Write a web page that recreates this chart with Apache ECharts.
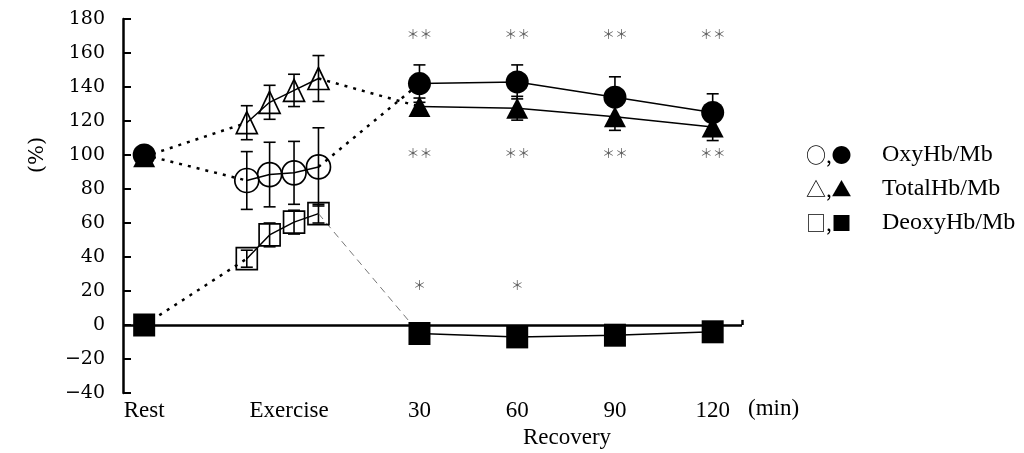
<!DOCTYPE html>
<html>
<head>
<meta charset="utf-8">
<script src="https://cdn.jsdelivr.net/npm/echarts@6/dist/echarts.min.js"></script>
<style>
  html, body { margin: 0; padding: 0; background: #fff; }
  #chart { width: 1024px; height: 453px; }
</style>
</head>
<body>
<div id="chart"></div>
<script>
// x positions: minutes of recovery; rest and exercise stages sit before 0
const restX = -54.5;
const exerciseX = [-23, -16, -8.5, -1];
const recoveryX = [30, 60, 90, 120];
const xMin = -61;
const xMax = 129;

const xTickValues = [-54.5, -10, 30, 60, 90, 120];
const xTickLabels = ['Rest', 'Exercise', '30', '60', '90', '120'];

// values in % of rest (mean and SD)
const oxyRest = 100;
const totalRest = 99;
const deoxyRest = 0;

const oxyExercise = [85, 88.5, 89.5, 93];
const oxyExerciseSD = [17, 19, 18.5, 23];
const totalExercise = [119, 131, 138, 145];
const totalExerciseSD = [10, 10, 9.5, 13.5];
const deoxyExercise = [39, 53, 60.5, 65.5];
const deoxyExerciseSD = [5, 7, 7, 5.5];

const oxyRecovery = [142, 143, 134, 125];
const oxyRecoverySD = [11, 10, 12, 11];
const totalRecovery = [128.5, 127.5, 122.5, 116.5];
const totalRecoverySD = [5, 7, 8, 8];
const deoxyRecovery = [-5, -7, -6, -4];
const deoxyRecoverySD = [2, 2, 2, 2];

// significance marks above each recovery time
const sigOxy = ['**', '**', '**', '**'];
const sigOxyLevel = 171;
const sigTotal = ['**', '**', '**', '**'];
const sigTotalLevel = 101;
const sigDeoxy = ['*', '*', '', ''];
const sigDeoxyLevel = 23.5;

const legendRows = [
  { marks: '\u25CB,\u25CF', name: 'OxyHb/Mb' },
  { marks: '\u25B3,\u25B2', name: 'TotalHb/Mb' },
  { marks: '\u25A1,\u25A0', name: 'DeoxyHb/Mb' }
];

const serif = '"Liberation Serif", "Times New Roman", serif';
const zip = (xs, ys) => xs.map((x, i) => [x, ys[i]]);

function errorData(xs, ys, sds) {
  return xs.map((x, i) => [x, ys[i] - sds[i], ys[i] + sds[i]]);
}
const allErrors = [].concat(
  errorData(exerciseX, oxyExercise, oxyExerciseSD),
  errorData(exerciseX, totalExercise, totalExerciseSD),
  errorData(exerciseX, deoxyExercise, deoxyExerciseSD),
  errorData(recoveryX, oxyRecovery, oxyRecoverySD),
  errorData(recoveryX, totalRecovery, totalRecoverySD),
  errorData(recoveryX, deoxyRecovery, deoxyRecoverySD)
);

const openStyle = { color: 'rgba(255,255,255,0)', borderColor: '#000', borderWidth: 1.7 };
const filledStyle = { color: '#000', borderColor: '#000', borderWidth: 0 };

function markerLine(data, symbol, size, itemStyle, z) {
  return {
    type: 'line', data, symbol, symbolSize: size, showSymbol: true,
    lineStyle: { color: '#000', width: 1.5 },
    itemStyle, z, silent: true, animation: false
  };
}
function linkLine(data, lineStyle) {
  return {
    type: 'line', data, symbol: 'none', lineStyle, z: 2, silent: true, animation: false
  };
}
const dotted = { color: '#000', width: 2.5, type: [3, 6] };
const thinDash = { color: '#777', width: 1, type: [7, 5] };

function sigSeries(texts, level) {
  return {
    type: 'scatter', symbolSize: 0, z: 6, silent: true, animation: false,
    data: recoveryX.map((x, i) => [x, level, texts[i]]),
    label: {
      show: true, position: 'inside',
      formatter: p => p.value[2].replace(/\*/g, '\uFF0A'),
      fontFamily: '"Noto Sans CJK JP", sans-serif', fontSize: 13, color: '#333'
    }
  };
}

const chart = echarts.init(document.getElementById('chart'), null, { renderer: 'canvas' });
chart.setOption({
  animation: false,
  backgroundColor: '#fff',
  grid: { left: 123, right: 282, top: 19, bottom: 60, containLabel: false },
  xAxis: {
    type: 'value', min: xMin, max: xMax,
    axisLine: { show: false, onZero: false },
    axisTick: { show: false },
    splitLine: { show: false },
    axisLabel: {
      customValues: xTickValues,
      formatter: v => xTickLabels[xTickValues.indexOf(v)],
      margin: 6, fontFamily: serif, fontSize: 23, color: '#000'
    }
  },
  yAxis: {
    type: 'value', min: -40, max: 180, interval: 20,
    axisLine: { show: true, onZero: false, lineStyle: { color: '#000', width: 2.5 } },
    axisTick: { show: true, inside: true, length: 8, lineStyle: { color: '#000', width: 2 } },
    axisLabel: {
      margin: 18, fontFamily: '"DejaVu Serif", serif', fontSize: 19, color: '#000',
      formatter: v => String(v).replace('-', '\u2212')
    },
    splitLine: { show: false }
  },
  graphic: [
    { type: 'text', x: 38, y: 155, rotation: Math.PI / 2,
      style: { text: '(%)', font: '21px "DejaVu Serif", serif', fill: '#000', align: 'center', verticalAlign: 'middle' } },
    { type: 'text', x: 567, y: 438,
      style: { text: 'Recovery', font: '23px ' + serif, fill: '#000', align: 'center', verticalAlign: 'middle' } },
    { type: 'text', x: 748, y: 409,
      style: { text: '(min)', font: '23px ' + serif, fill: '#000', align: 'left', verticalAlign: 'middle' } }
  ].concat(legendRows.flatMap((r, i) => [
    { type: 'text', x: 806, y: 155 + i * 34,
      style: { text: r.marks, font: '20px "Noto Sans CJK JP", sans-serif', fill: '#000', align: 'left', verticalAlign: 'middle' } },
    { type: 'text', x: 882, y: 155 + i * 34,
      style: { text: r.name, font: '24px ' + serif, fill: '#000', align: 'left', verticalAlign: 'middle' } }
  ])),
  series: [
    {
      type: 'custom', z: 1, silent: true, animation: false,
      data: allErrors,
      encode: { x: 0, y: [1, 2] },
      renderItem: (params, api) => {
        const lo = api.coord([api.value(0), api.value(1)]);
        const hi = api.coord([api.value(0), api.value(2)]);
        const w = 6;
        const st = { stroke: '#000', lineWidth: 1.6 };
        return {
          type: 'group',
          children: [
            { type: 'line', shape: { x1: lo[0], y1: lo[1], x2: hi[0], y2: hi[1] }, style: st },
            { type: 'line', shape: { x1: lo[0] - w, y1: lo[1], x2: lo[0] + w, y2: lo[1] }, style: st },
            { type: 'line', shape: { x1: hi[0] - w, y1: hi[1], x2: hi[0] + w, y2: hi[1] }, style: st }
          ]
        };
      },
      markLine: {
        silent: true, symbol: 'none', label: { show: false },
        lineStyle: { color: '#000', width: 2.5, type: 'solid' },
        data: [
          { yAxis: 0 },
          [{ coord: [xMax, 0] }, { coord: [xMax, 3] }]
        ]
      }
    },
    // rest to exercise, exercise to recovery
    linkLine([[restX, oxyRest], [exerciseX[0], oxyExercise[0]]], dotted),
    linkLine([[restX, totalRest], [exerciseX[0], totalExercise[0]]], dotted),
    linkLine([[restX, deoxyRest], [exerciseX[0], deoxyExercise[0]]], dotted),
    linkLine([[exerciseX[3], oxyExercise[3]], [recoveryX[0], oxyRecovery[0]]], dotted),
    linkLine([[exerciseX[3], totalExercise[3]], [recoveryX[0], totalRecovery[0]]], dotted),
    linkLine([[exerciseX[3], deoxyExercise[3]], [recoveryX[0], deoxyRecovery[0]]], thinDash),
    // exercise (open markers)
    markerLine(zip(exerciseX, oxyExercise), 'circle', 24, openStyle, 4),
    markerLine(zip(exerciseX, totalExercise), 'triangle', [21, 22], openStyle, 4),
    markerLine(zip(exerciseX, deoxyExercise), 'rect', [21, 22], openStyle, 4),
    // recovery (filled markers)
    markerLine(zip(recoveryX, totalRecovery), 'triangle', [22, 21], filledStyle, 4),
    markerLine(zip(recoveryX, oxyRecovery), 'circle', 23, filledStyle, 5),
    markerLine(zip(recoveryX, deoxyRecovery), 'rect', [22, 23], filledStyle, 4),
    // rest
    markerLine([[restX, totalRest]], 'triangle', [22, 21], filledStyle, 4),
    markerLine([[restX, oxyRest]], 'circle', 23, filledStyle, 5),
    markerLine([[restX, deoxyRest]], 'rect', [22, 23], filledStyle, 5),
    sigSeries(sigOxy, sigOxyLevel),
    sigSeries(sigTotal, sigTotalLevel),
    sigSeries(sigDeoxy, sigDeoxyLevel)
  ]
});
</script>
</body>
</html>
